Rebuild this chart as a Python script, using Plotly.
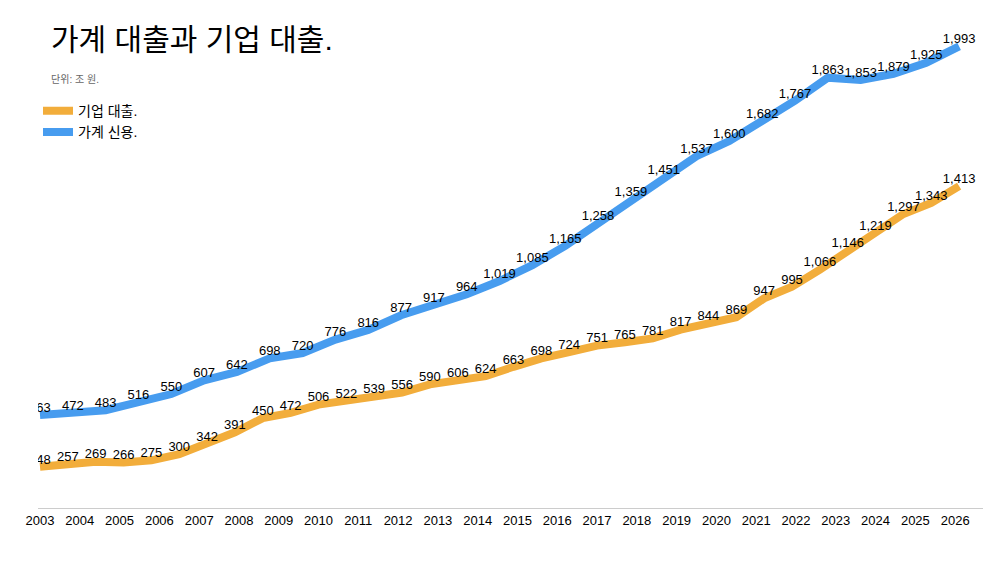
import numpy as np
import plotly.graph_objects as go

household = [463, 472, 483, 516, 550, 607, 642, 698, 720, 776, 816, 877, 917, 964, 1019,
             1085, 1165, 1258, 1359, 1451, 1537, 1600, 1682, 1767, 1863, 1853, 1879, 1925, 1993]
corporate = [248, 257, 269, 266, 275, 300, 342, 391, 450, 472, 506, 522, 539, 556, 590, 606, 624,
             663, 698, 724, 751, 765, 781, 817, 844, 869, 947, 995, 1066, 1146, 1219, 1297, 1343, 1413]
years = list(range(2003, 2027))

# label points are spread evenly across the period
x_house = np.linspace(2003, 2026.1, len(household))
x_corp = np.linspace(2003, 2026.1, len(corporate))

fmt = lambda v: f"{v:,}"

fig = go.Figure()
fig.add_trace(go.Scatter(
    x=x_corp, y=corporate, mode="lines+text", name="기업 대출.",
    line=dict(color="#F2AD3B", width=8),
    text=[fmt(v) for v in corporate], textposition="top center",
    textfont=dict(size=13, color="black"),
))
fig.add_trace(go.Scatter(
    x=x_house, y=household, mode="lines+text", name="가계 신용.",
    line=dict(color="#479CEF", width=8),
    text=[fmt(v) for v in household], textposition="top center",
    textfont=dict(size=13, color="black"),
))

fig.update_layout(
    width=1000, height=563,
    paper_bgcolor="white", plot_bgcolor="white",
    margin=dict(l=30, r=25, t=20, b=63),
    font=dict(family="Liberation Sans, Noto Sans CJK KR, sans-serif", color="black"),
    showlegend=True,
    legend=dict(x=0.0, y=0.86, xanchor="left", yanchor="top",
                font=dict(size=14), bgcolor="rgba(0,0,0,0)", traceorder="normal"),
    xaxis=dict(range=[2002.95, 2026.7], tickvals=years, ticktext=[str(y) for y in years],
               showgrid=False, zeroline=False, showline=True, linecolor="#cccccc",
               tickfont=dict(size=13), ticks=""),
    yaxis=dict(range=[77, 2069], visible=False),
    annotations=[
        dict(text="가계 대출과 기업 대출.", x=0.012, y=1.015, xref="paper", yref="paper",
             xanchor="left", yanchor="top", showarrow=False, font=dict(size=30)),
        dict(text="단위: 조 원.", x=0.012, y=0.91, xref="paper", yref="paper",
             xanchor="left", yanchor="top", showarrow=False, font=dict(size=10, color="#666666")),
    ],
)
fig.write_html("out.html")
